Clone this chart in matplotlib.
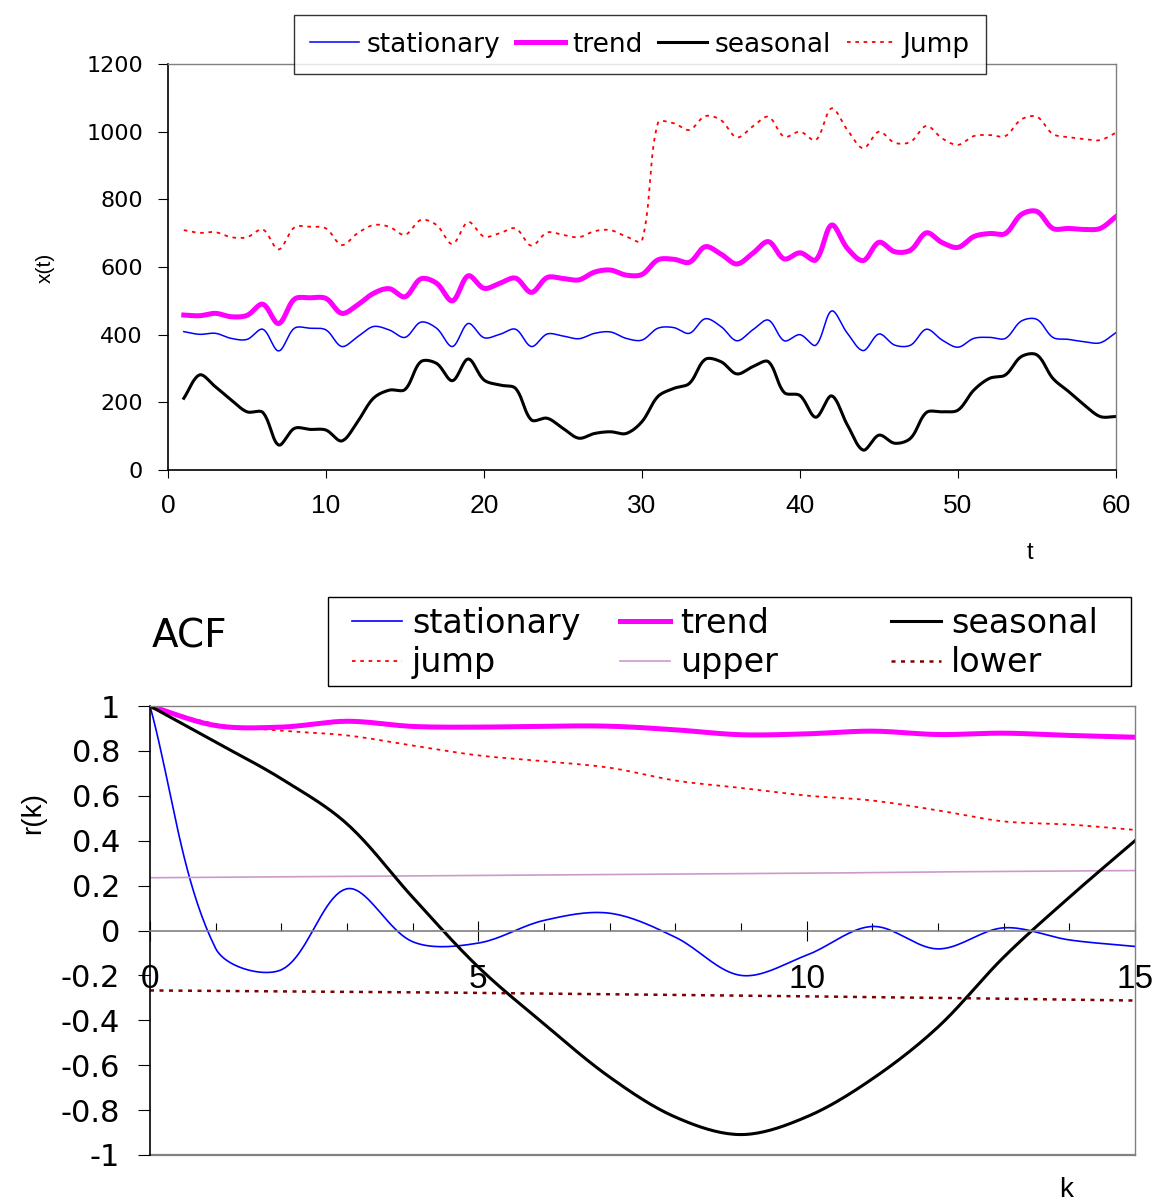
import numpy as np
import matplotlib
matplotlib.use("Agg")
import matplotlib.pyplot as plt
from matplotlib.patches import Rectangle

# ---------------- data: time series ----------------
t = list(range(1, 61))
stationary = [409, 401, 404, 389, 386, 416, 352, 419, 419, 414,
              365, 394, 424, 414, 392, 437, 419, 365, 433, 391,
              401, 416, 365, 402, 396, 388, 404, 408, 389, 384,
              419, 421, 404, 447, 424, 382, 414, 443, 382, 400,
              369, 470, 404, 353, 402, 369, 369, 416, 384, 363,
              389, 392, 389, 440, 445, 392, 386, 379, 376, 406]
trend = [458, 456, 463, 453, 457, 490, 433, 505, 509, 507,
         463, 488, 522, 536, 512, 565, 552, 500, 574, 537,
         552, 567, 525, 569, 566, 562, 585, 591, 576, 578,
         621, 623, 614, 660, 638, 609, 640, 675, 624, 642,
         621, 724, 655, 619, 673, 645, 650, 701, 672, 658,
         690, 699, 699, 755, 764, 714, 714, 711, 714, 749]
seasonal = [212, 281, 246, 207, 172, 170, 74, 123, 120, 118,
            86, 143, 212, 236, 238, 320, 315, 264, 328, 266,
            251, 241, 148, 153, 123, 94, 108, 113, 108, 143,
            217, 241, 256, 327, 320, 284, 305, 320, 229, 220,
            156, 219, 133, 59, 103, 79, 94, 170, 172, 177,
            236, 271, 281, 335, 340, 271, 232, 192, 158, 158]
jump = [709, 701, 703, 688, 688, 711, 652, 717, 719, 714,
        665, 700, 724, 719, 695, 739, 724, 668, 733, 690,
        700, 714, 663, 702, 695, 688, 706, 709, 690, 678,
        1025, 1025, 1005, 1046, 1034, 983, 1015, 1044, 985, 1000,
        975, 1069, 1005, 951, 1000, 967, 970, 1017, 980, 961,
        987, 990, 987, 1036, 1044, 993, 984, 978, 975, 997]

# ---------------- data: autocorrelation ----------------
lags = list(range(0, 16))
acf_stationary = [1, -0.08, -0.175, 0.186, -0.05, -0.056, 0.045, 0.077,
                  -0.03, -0.2, -0.11, 0.018, -0.082, 0.012, -0.042, -0.071]
acf_trend = [1, 0.913, 0.906, 0.932, 0.909, 0.906, 0.91, 0.91,
             0.894, 0.872, 0.876, 0.888, 0.873, 0.879, 0.869, 0.861]
acf_seasonal = [1, 0.839, 0.676, 0.475, 0.148, -0.163, -0.416, -0.653,
                -0.831, -0.909, -0.83, -0.661, -0.43, -0.119, 0.148, 0.40]
acf_jump = [1, 0.92, 0.89, 0.869, 0.824, 0.78, 0.754, 0.725,
            0.668, 0.635, 0.601, 0.579, 0.535, 0.486, 0.472, 0.448]
acf_upper = [0.235, 0.237, 0.239, 0.241, 0.243, 0.245, 0.247, 0.249,
             0.251, 0.253, 0.255, 0.258, 0.261, 0.263, 0.265, 0.267]
acf_lower = [-0.267, -0.269, -0.271, -0.273, -0.275, -0.278, -0.281, -0.284,
             -0.287, -0.290, -0.293, -0.297, -0.300, -0.304, -0.308, -0.312]

top_xticks = [0, 10, 20, 30, 40, 50, 60]
top_yticks = [0, 200, 400, 600, 800, 1000, 1200]
bot_xticks = [0, 5, 10, 15]
bot_yticks = [1, 0.8, 0.6, 0.4, 0.2, 0, -0.2, -0.4, -0.6, -0.8, -1]


def smooth(x, y, kx, ky, n=20):
    """Spreadsheet-style smoothed line: cubic Bezier through every point,
    handle lengths weighted by neighbouring segment lengths on screen
    (kx, ky = pixels per data unit)."""
    P = np.column_stack([np.asarray(x, float) * kx, np.asarray(y, float) * ky])
    m = len(P)
    s = np.linspace(0, 1, n, endpoint=False)[:, None]
    out = []
    for i in range(m - 1):
        p0 = P[i - 1] if i > 0 else P[i]
        p1, p2 = P[i], P[i + 1]
        p3 = P[i + 2] if i + 2 < m else P[i + 1]
        d01 = np.hypot(*(p1 - p0))
        d12 = np.hypot(*(p2 - p1))
        d23 = np.hypot(*(p3 - p2))
        w1 = d12 / (d01 + d12) if d01 + d12 > 0 else 0.5
        w2 = d12 / (d12 + d23) if d12 + d23 > 0 else 0.5
        c1 = p1 + (p2 - p0) * w1 / 3.0
        c2 = p2 - (p3 - p1) * w2 / 3.0
        seg = ((1 - s) ** 3) * p1 + 3 * ((1 - s) ** 2) * s * c1 \
            + 3 * (1 - s) * s ** 2 * c2 + s ** 3 * p2
        out.append(seg)
    out.append(P[-1:])
    out = np.vstack(out)
    return out[:, 0] / kx, out[:, 1] / ky


W, H = 1158, 1203
fig = plt.figure(figsize=(W / 100, H / 100), dpi=100)
fig.patch.set_facecolor("white")

GREY = "#808080"
WIDE = "DejaVu Sans"
ARIAL = "Liberation Sans"

# ================= top panel: the four series =================
ax1 = fig.add_axes([168 / W, 1 - 470 / H, 948 / W, 406 / H])
kx1, ky1 = 948 / 60, 406 / 1200
styles = [
    ("stationary", stationary, dict(color="#0000ff", lw=1.1)),
    ("trend", trend, dict(color="#ff00ff", lw=3.6)),
    ("seasonal", seasonal, dict(color="black", lw=2.2)),
    ("Jump", jump, dict(color="#ff0000", lw=1.3, dashes=(2, 2.6))),
]
handles1 = []
for name, vals, st in styles:
    sx, sy = smooth(t, vals, kx1, ky1)
    ln, = ax1.plot(sx, sy, label=name, **st)
    handles1.append(ln)

ax1.set_xlim(0, 60)
ax1.set_ylim(0, 1200)
ax1.set_xticks(top_xticks)
ax1.set_yticks(top_yticks)
ax1.tick_params(axis="y", direction="out", length=7, width=0.8, pad=11,
                labelsize=16, colors="black")
ax1.tick_params(axis="x", direction="out", length=6, width=0.8, pad=11,
                labelsize=19, colors="black")
for lab in ax1.get_yticklabels():
    lab.set_fontfamily(WIDE)
for lab in ax1.get_xticklabels():
    lab.set_fontfamily(ARIAL)
for side in ("top", "right"):
    ax1.spines[side].set_color(GREY)
    ax1.spines[side].set_linewidth(1.0)
for side in ("left", "bottom"):
    ax1.spines[side].set_color("black")
    ax1.spines[side].set_linewidth(1.2)

leg1 = fig.legend(handles=handles1, loc="center", ncol=4,
                  bbox_to_anchor=(640 / W, 1 - 44.5 / H),
                  prop=dict(family=WIDE, size=19), frameon=True,
                  fancybox=False, edgecolor="black", handlelength=1.85,
                  handletextpad=0.28, columnspacing=0.6, borderpad=0.62,
                  borderaxespad=0)
leg1.get_frame().set_linewidth(1.0)

fig.text(45 / W, 1 - 268 / H, "x(t)", rotation=90, ha="center", va="center",
         fontsize=15, family=ARIAL)
fig.text(1030 / W, 1 - 553 / H, "t", ha="center", va="center",
         fontsize=17, family=ARIAL)

# ================= bottom panel: autocorrelation =================
ax2 = fig.add_axes([150 / W, 1 - 1155 / H, 985 / W, 449 / H])
kx2, ky2 = 985 / 15, 449 / 2
acf_styles = [
    ("stationary", acf_stationary, dict(color="#0000ff", lw=1.2)),
    ("jump", acf_jump, dict(color="#ff0000", lw=1.3, dashes=(2, 2.6))),
    ("trend", acf_trend, dict(color="#ff00ff", lw=3.6)),
    ("upper", acf_upper, dict(color="#cc99cc", lw=1.2)),
    ("seasonal", acf_seasonal, dict(color="black", lw=2.2)),
    ("lower", acf_lower, dict(color="#800000", lw=1.8, dashes=(1.6, 2.2))),
]
handles2 = []
for name, vals, st in acf_styles:
    sx, sy = smooth(lags, vals, kx2, ky2)
    ln, = ax2.plot(sx, sy, label=name, **st)
    handles2.append(ln)

ax2.set_xlim(0, 15)
ax2.set_ylim(-1, 1)
ax2.set_yticks(bot_yticks)
ax2.set_yticklabels([f"{v:g}" for v in bot_yticks])
ax2.set_xticks(bot_xticks)
ax2.set_xticks(lags, minor=True)
ax2.spines["bottom"].set_position(("data", 0))
ax2.spines["bottom"].set_color(GREY)
ax2.spines["bottom"].set_linewidth(1.2)
ax2.spines["left"].set_color("black")
ax2.spines["left"].set_linewidth(1.2)
for side in ("top", "right"):
    ax2.spines[side].set_color(GREY)
    ax2.spines[side].set_linewidth(1.0)
ax2.axhline(-1, color=GREY, lw=1.6, clip_on=False, zorder=0)
ax2.tick_params(axis="y", direction="out", length=8.5, width=0.8, pad=13,
                labelsize=22, colors="black")
ax2.tick_params(axis="x", which="major", direction="inout", length=14,
                width=0.8, pad=17, labelsize=24, colors="black")
ax2.tick_params(axis="x", which="minor", direction="in", length=6, width=0.8,
                colors="black")
for lab in ax2.get_yticklabels():
    lab.set_fontfamily(WIDE)
for lab in ax2.get_xticklabels():
    lab.set_fontfamily(ARIAL)

# ACF legend: boxed, three evenly spaced columns of two entries
fig.patches.append(Rectangle((328 / W, 1 - 686 / H), (1131 - 328) / W,
                             (686 - 597) / H, transform=fig.transFigure,
                             facecolor="white", edgecolor="black", lw=1.0,
                             zorder=3))
col_x = [352, 620, 891]
for c in range(3):
    leg = fig.legend(handles=handles2[2 * c:2 * c + 2], loc="center left",
                     bbox_to_anchor=(col_x[c] / W, 1 - 643 / H),
                     prop=dict(family=WIDE, size=24), frameon=False,
                     handlelength=1.5, handletextpad=0.3, borderpad=0,
                     borderaxespad=0, labelspacing=0.2)
    leg.set_zorder(4)

fig.text(152 / W, 1 - 636 / H, "ACF", ha="left", va="center",
         fontsize=28, family=WIDE)
fig.text(33 / W, 1 - 813 / H, "r(k)", rotation=90, ha="center", va="center",
         fontsize=20, family=ARIAL)
fig.text(1066 / W, 1 - 1190 / H, "k", ha="center", va="center",
         fontsize=20, family=ARIAL)

fig.savefig("out.png", dpi=100, facecolor="white")
